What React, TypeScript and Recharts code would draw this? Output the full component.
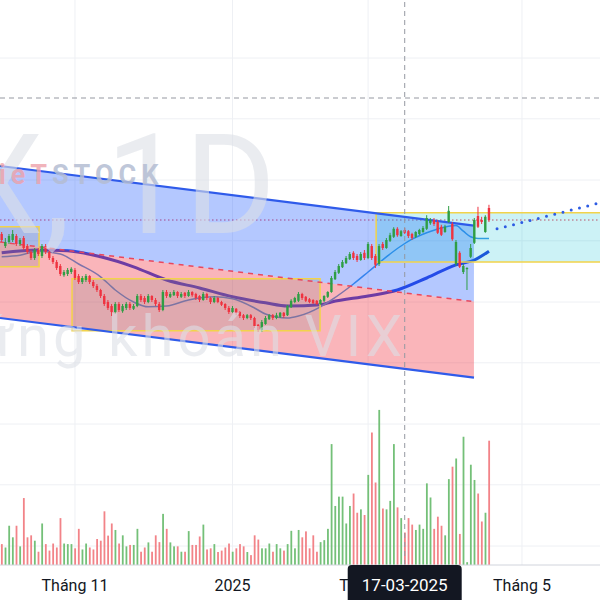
import React from "react";
import {
  ComposedChart,
  Bar,
  Line,
  Area,
  XAxis,
  YAxis,
  ReferenceLine,
  ReferenceArea,
} from "recharts";

// Daily candles of VIX, index 0 = 04-10-2024 … index 133 = 18-04-2025 (thousand VND)
const opens = [
  12.65, 12.35, 12.45, 12.5, 12.6, 12.4, 12.55, 12.35, 12.2, 12.05,
  12.25, 12.1, 12.35, 12.2, 12.05, 11.95, 11.85, 11.62, 11.65, 11.7,
  11.75, 11.6, 11.45, 11.5, 11.6, 11.45, 11.35, 11.25, 11.1, 10.95,
  10.85, 10.7, 10.9, 10.72, 10.8, 10.9, 10.78, 10.85, 11.1, 11.05,
  10.95, 11.1, 11.0, 10.9, 10.75, 11.2, 11.08, 11.12, 11.2, 11.08,
  11.18, 11.1, 11.2, 11.15, 11.1, 11.0, 11.15, 11.05, 10.95, 11.05,
  10.95, 10.9, 10.8, 10.7, 10.78, 10.7, 10.62, 10.55, 10.62, 10.55,
  10.38, 10.25, 10.4, 10.52, 10.62, 10.55, 10.58, 10.68, 10.62, 10.82,
  10.95, 10.98, 11.15, 11.08, 11.02, 11.0, 10.98, 10.9, 10.98, 11.08,
  11.2, 11.52, 11.68, 11.82, 11.92, 12.02, 12.18, 12.1, 12.0, 12.18,
  12.05, 12.35, 12.1, 11.9, 12.4, 12.3, 12.48, 12.58, 12.78, 12.6,
  12.75, 12.72, 12.65, 12.58, 12.65, 12.7, 12.78, 12.92, 13.0, 12.95,
  12.83, 12.7, 12.95, 12.9, 11.9, 12.18, 11.7, 11.77, 12.08, 12.43,
  13.1, 13.0, 12.7, 13.3,
];
const highs = [
  12.7, 12.55, 12.65, 12.75, 12.65, 12.55, 12.6, 12.4, 12.25, 12.3,
  12.3, 12.4, 12.4, 12.25, 12.1, 12.0, 11.9, 11.75, 11.8, 11.82,
  11.8, 11.65, 11.6, 11.65, 11.62, 11.5, 11.4, 11.28, 11.15, 11.0,
  10.9, 10.95, 10.95, 10.9, 10.95, 10.95, 10.9, 11.15, 11.15, 11.1,
  11.15, 11.12, 11.05, 10.95, 11.25, 11.25, 11.2, 11.25, 11.22, 11.2,
  11.2, 11.25, 11.22, 11.18, 11.12, 11.2, 11.18, 11.08, 11.1, 11.08,
  10.98, 10.92, 10.85, 10.85, 10.8, 10.72, 10.65, 10.65, 10.65, 10.58,
  10.4, 10.5, 10.6, 10.65, 10.65, 10.68, 10.7, 10.7, 10.88, 11.02,
  11.08, 11.2, 11.18, 11.1, 11.05, 11.02, 11.0, 11.02, 11.12, 11.22,
  11.6, 11.75, 11.9, 12.0, 12.1, 12.2, 12.22, 12.15, 12.2, 12.25,
  12.45, 12.4, 12.15, 12.4, 12.45, 12.55, 12.68, 12.82, 12.82, 12.75,
  12.8, 12.75, 12.68, 12.72, 12.78, 12.85, 13.12, 13.05, 13.05, 13.0,
  12.88, 12.88, 13.35, 12.95, 12.5, 12.22, 11.9, 11.82, 12.4, 13.05,
  13.33, 13.08, 13.12, 13.38,
];
const lows = [
  12.45, 12.3, 12.4, 12.45, 12.35, 12.35, 12.25, 12.15, 12.0, 12.0,
  12.1, 12.05, 12.15, 12.0, 11.9, 11.75, 11.6, 11.58, 11.6, 11.65,
  11.5, 11.4, 11.4, 11.45, 11.4, 11.3, 11.2, 11.05, 10.85, 10.75,
  10.6, 10.65, 10.7, 10.68, 10.75, 10.75, 10.75, 10.82, 10.95, 10.9,
  10.92, 10.95, 10.85, 10.7, 10.72, 11.05, 11.05, 11.1, 11.05, 11.05,
  11.05, 11.08, 11.08, 11.0, 10.95, 10.98, 11.0, 10.9, 10.92, 10.92,
  10.85, 10.75, 10.65, 10.68, 10.62, 10.55, 10.5, 10.52, 10.5, 10.3,
  10.2, 10.2, 10.38, 10.5, 10.5, 10.52, 10.55, 10.55, 10.6, 10.8,
  10.92, 10.95, 11.0, 10.95, 10.92, 10.9, 10.88, 10.88, 10.95, 11.05,
  11.18, 11.5, 11.65, 11.8, 11.9, 12.0, 12.0, 11.95, 11.98, 12.0,
  12.02, 12.0, 11.8, 11.85, 12.25, 12.28, 12.45, 12.55, 12.58, 12.58,
  12.65, 12.55, 12.5, 12.55, 12.62, 12.68, 12.75, 12.88, 12.85, 12.65,
  12.6, 12.68, 12.93, 12.48, 11.85, 11.8, 11.65, 11.25, 12.05, 12.4,
  12.8, 12.9, 12.68, 12.95,
];
const closes = [
  12.5, 12.45, 12.6, 12.65, 12.4, 12.5, 12.3, 12.2, 12.05, 12.25,
  12.15, 12.35, 12.2, 12.05, 11.95, 11.8, 11.65, 11.7, 11.75, 11.78,
  11.55, 11.45, 11.55, 11.6, 11.45, 11.35, 11.25, 11.1, 10.9, 10.8,
  10.7, 10.9, 10.75, 10.85, 10.9, 10.8, 10.85, 11.1, 11.0, 10.95,
  11.1, 11.0, 10.9, 10.75, 11.2, 11.1, 11.15, 11.2, 11.1, 11.15,
  11.1, 11.2, 11.12, 11.05, 11.0, 11.15, 11.05, 10.95, 11.05, 10.95,
  10.88, 10.8, 10.7, 10.8, 10.68, 10.6, 10.55, 10.62, 10.55, 10.35,
  10.25, 10.45, 10.55, 10.62, 10.55, 10.62, 10.68, 10.6, 10.85, 10.98,
  11.05, 11.15, 11.05, 10.98, 10.95, 10.92, 10.9, 11.0, 11.1, 11.2,
  11.55, 11.7, 11.85, 11.95, 12.05, 12.15, 12.05, 12.0, 12.15, 12.05,
  12.4, 12.05, 11.88, 12.35, 12.3, 12.5, 12.62, 12.78, 12.62, 12.72,
  12.68, 12.6, 12.55, 12.7, 12.75, 12.8, 13.05, 13.0, 12.9, 12.68,
  12.63, 12.83, 13.23, 12.52, 12.45, 11.83, 11.85, 11.8, 12.3, 13.0,
  12.83, 12.95, 13.08, 13.0,
];
// Matched volume, millions of shares
const volumes = [
  7.4, 6.2, 13.9, 9.8, 13.9, 6.6, 23.7, 9.8, 10.5, 8.6,
  4.7, 14.7, 7.4, 5.1, 7.6, 6.2, 16.6, 7.6, 7.4, 7.4,
  5.9, 12.8, 5.5, 7.6, 6.2, 5.5, 9.2, 8.6, 19.0, 10.4,
  14.7, 12.4, 7.6, 10.5, 6.6, 7.1, 7.1, 12.8, 4.7, 6.2,
  8.0, 4.7, 10.5, 8.1, 18.1, 12.8, 8.0, 6.6, 6.6, 4.7,
  4.7, 12.0, 7.1, 7.1, 10.1, 14.3, 5.5, 5.9, 7.4, 4.6,
  5.1, 6.2, 7.6, 4.7, 5.9, 7.4, 6.6, 4.6, 3.5, 10.5,
  9.0, 5.9, 5.9, 7.6, 4.7, 7.4, 5.9, 5.1, 7.4, 12.1,
  5.9, 12.4, 9.8, 11.9, 5.9, 10.5, 4.7, 8.1, 8.8, 12.8,
  42.8, 20.9, 24.2, 24.2, 14.7, 20.9, 25.3, 18.5, 19.7, 17.7,
  31.9, 46.9, 29.2, 54.9, 20.0, 19.7, 22.7, 42.8, 20.4, 16.6,
  11.5, 16.6, 14.3, 12.4, 14.3, 12.8, 28.9, 23.9, 12.8, 17.1,
  13.9, 10.5, 30.4, 34.8, 37.7, 11.0, 45.4, 1.0, 35.5, 30.1,
  25.3, 15.4, 18.5, 44.0,
];

// Short and long moving averages
const fastMa = [
  { i: 0, v: 12.08 }, { i: 5, v: 12.12 }, { i: 10, v: 12.22 }, { i: 16, v: 12.15 },
  { i: 21, v: 11.9 }, { i: 27, v: 11.58 }, { i: 31, v: 11.25 }, { i: 36, v: 10.95 },
  { i: 40, v: 10.83 }, { i: 45, v: 10.85 }, { i: 51, v: 11.0 }, { i: 58, v: 11.08 },
  { i: 63, v: 11.03 }, { i: 69, v: 10.8 }, { i: 72, v: 10.65 }, { i: 78, v: 10.55 },
  { i: 81, v: 10.6 }, { i: 87, v: 10.83 }, { i: 90, v: 11.0 }, { i: 96, v: 11.4 },
  { i: 100, v: 11.7 }, { i: 105, v: 12.08 }, { i: 109, v: 12.35 }, { i: 112, v: 12.52 },
  { i: 116, v: 12.68 }, { i: 120, v: 12.8 }, { i: 124, v: 12.86 }, { i: 126, v: 12.72 },
  { i: 128, v: 12.58 }, { i: 130, v: 12.54 }, { i: 133, v: 12.54 },
];
const slowMa = [
  { i: 0, v: 12.18 }, { i: 10, v: 12.25 }, { i: 18, v: 12.23 }, { i: 27, v: 12.08 },
  { i: 36, v: 11.83 }, { i: 45, v: 11.5 }, { i: 54, v: 11.3 }, { i: 63, v: 11.08 },
  { i: 72, v: 10.93 }, { i: 78, v: 10.85 }, { i: 87, v: 10.88 }, { i: 90, v: 10.95 },
  { i: 100, v: 11.1 }, { i: 108, v: 11.25 }, { i: 116, v: 11.55 }, { i: 124, v: 11.88 },
  { i: 129, v: 12.0 }, { i: 133, v: 12.22 },
];

// Descending channel (upper / lower rails), midline is their average
const channelIndex = [-0.46, 128.9];
const channelUpper = [14.35, 12.86];
const channelLower = [10.55, 9.06];

// Projected path
const projectionIndex = [135.2, 163.3];
const projectionPrice = [12.78, 13.43];

const resistancePrice = 13.0;

// Accumulation boxes
const zoneStart = [-1, 19.2, 102.2];
const zoneEnd = [10.2, 86.9, 170];
const zoneLow = [11.83, 10.23, 11.95];
const zoneHigh = [12.83, 11.53, 13.18];
const zoneFill = ["#787b86", "#787b86", "#00bcd4"];

const timeTicks = [20, 63, 100, 142];
const timeTickLabels = ["Tháng 11", "2025", "Tháng 3", "Tháng 5"];
const crosshairIndex = 110;
const crosshairDate = "17-03-2025";
const crosshairPrice = 16.05;

const gridPrices = [17.05, 15.53, 14.0, 12.48, 10.95, 9.43, 7.9, 6.38, 4.85];

const UP = "#2f9e44";
const DOWN = "#ef3340";
const VOL_UP = "#74c078";
const VOL_DOWN = "#f28388";
const FONT = "Roboto, 'Noto Sans', sans-serif";

const rows = opens.map((o, i) => ({
  i,
  o,
  h: highs[i],
  l: lows[i],
  c: closes[i],
  v: volumes[i],
}));

const channelRows = channelIndex.map((i, k) => ({
  i,
  up: channelUpper[k],
  lo: channelLower[k],
  mid: (channelUpper[k] + channelLower[k]) / 2,
}));

const projectionRows = projectionIndex.map((i, k) => ({ i, p: projectionPrice[k] }));

const Candle = (props: any) => {
  const { x, y, width, height, payload } = props;
  if (!payload || payload.o == null) return null;
  const { o, h, l, c } = payload;
  const top = Math.min(y, y + height);
  const span = Math.abs(height);
  const ppu = h > l ? span / (h - l) : 0;
  const bodyTop = top + (h - Math.max(o, c)) * ppu;
  const bodyBottom = top + (h - Math.min(o, c)) * ppu;
  const cx = x + width / 2;
  const color = c >= o ? UP : DOWN;
  return (
    <g>
      <line x1={cx} x2={cx} y1={top} y2={top + span} stroke={color} strokeWidth={1} />
      <rect
        x={cx - 1.2}
        y={bodyTop}
        width={2.4}
        height={Math.max(1, bodyBottom - bodyTop)}
        fill={color}
      />
    </g>
  );
};

const VolumeBar = (props: any) => {
  const { x, y, width, height, payload } = props;
  if (!payload) return null;
  const cx = x + width / 2;
  const color = payload.c >= payload.o ? VOL_UP : VOL_DOWN;
  return (
    <rect
      x={cx - 0.9}
      y={Math.min(y, y + height)}
      width={1.8}
      height={Math.abs(height)}
      fill={color}
    />
  );
};

const TimeTick = (props: any) => {
  const { x, y, payload } = props;
  const v = payload.value;
  if (v === crosshairIndex) {
    return (
      <g>
        <rect x={x - 57} y={y - 14} width={114} height={40} rx={4} fill="#131722" />
        <text
          x={x}
          y={y + 12}
          textAnchor="middle"
          fill="#ffffff"
          fontSize={17}
          fontFamily={FONT}
        >
          {crosshairDate}
        </text>
      </g>
    );
  }
  const k = timeTicks.indexOf(v);
  return (
    <text x={x} y={y + 12} textAnchor="middle" fill="#131722" fontSize={16} fontFamily={FONT}>
      {timeTickLabels[k]}
    </text>
  );
};

export default function App() {
  return (
    <div
      style={{
        position: "absolute",
        left: 0,
        top: 0,
        width: 600,
        height: 600,
        background: "#ffffff",
        overflow: "hidden",
      }}
    >
      <ComposedChart
        width={600}
        height={600}
        data={rows}
        margin={{ top: 0, right: 0, bottom: 0, left: 0 }}
      >
        <XAxis
          xAxisId="t"
          dataKey="i"
          type="number"
          domain={[-0.46, 163.3]}
          allowDataOverflow
          ticks={[...timeTicks, crosshairIndex]}
          interval={0}
          tick={<TimeTick />}
          tickLine={false}
          tickSize={6}
          tickMargin={8}
          height={35}
          axisLine={{ stroke: "#d1d4dc" }}
        />
        <XAxis
          xAxisId="tv"
          dataKey="i"
          type="number"
          domain={[-0.46, 163.3]}
          allowDataOverflow
          hide
        />
        <YAxis yAxisId="p" domain={[4.375, 18.5]} allowDataOverflow hide />
        <YAxis yAxisId="v" domain={[0, 200]} allowDataOverflow hide />

        {gridPrices.map((g) => (
          <ReferenceLine
            key={"gy" + g}
            xAxisId="t"
            yAxisId="p"
            y={g}
            stroke="#eef0f4"
            strokeWidth={1}
            zIndex={-100}
          />
        ))}
        {timeTicks.map((t) => (
          <ReferenceLine
            key={"gx" + t}
            xAxisId="t"
            yAxisId="p"
            x={t}
            stroke="#eef0f4"
            strokeWidth={1}
            zIndex={-100}
          />
        ))}

        <Line
          data={slowMa}
          xAxisId="t"
          yAxisId="p"
          dataKey="v"
          type="monotone"
          stroke="#2240dc"
          strokeWidth={3}
          dot={false}
          activeDot={false}
          isAnimationActive={false}
          zIndex={50}
        />
        <Line
          data={fastMa}
          xAxisId="t"
          yAxisId="p"
          dataKey="v"
          type="monotone"
          stroke="#3c96e6"
          strokeWidth={1.5}
          dot={false}
          activeDot={false}
          isAnimationActive={false}
          zIndex={50}
        />
        <ReferenceLine
          xAxisId="t"
          yAxisId="p"
          y={resistancePrice}
          stroke="#e53950"
          strokeWidth={1.2}
          strokeDasharray="1.5 2.5"
          ifOverflow="hidden"
          zIndex={60}
        />

        <Area
          data={channelRows}
          xAxisId="t"
          yAxisId="p"
          dataKey={(d: any) => [d.mid, d.up]}
          type="linear"
          stroke="none"
          fill="#2962ff"
          fillOpacity={0.35}
          isAnimationActive={false}
          activeDot={false}
          zIndex={100}
        />
        <Area
          data={channelRows}
          xAxisId="t"
          yAxisId="p"
          dataKey={(d: any) => [d.lo, d.mid]}
          type="linear"
          stroke="none"
          fill="#f23645"
          fillOpacity={0.37}
          isAnimationActive={false}
          activeDot={false}
          zIndex={100}
        />

        {zoneStart.map((x1, k) => (
          <ReferenceArea
            key={"zone" + k}
            xAxisId="t"
            yAxisId="p"
            x1={x1}
            x2={zoneEnd[k]}
            y1={zoneLow[k]}
            y2={zoneHigh[k]}
            ifOverflow="hidden"
            stroke="#f2d34b"
            strokeWidth={1.5}
            fill={zoneFill[k]}
            fillOpacity={0.2}
            zIndex={150}
          />
        ))}

        <Line
          data={channelRows}
          xAxisId="t"
          yAxisId="p"
          dataKey="up"
          type="linear"
          stroke="#2f5bea"
          strokeWidth={2.2}
          dot={false}
          activeDot={false}
          isAnimationActive={false}
          zIndex={200}
        />
        <Line
          data={channelRows}
          xAxisId="t"
          yAxisId="p"
          dataKey="lo"
          type="linear"
          stroke="#2f5bea"
          strokeWidth={2.2}
          dot={false}
          activeDot={false}
          isAnimationActive={false}
          zIndex={200}
        />
        <Line
          data={channelRows}
          xAxisId="t"
          yAxisId="p"
          dataKey="mid"
          type="linear"
          stroke="#e8475e"
          strokeWidth={1.5}
          strokeDasharray="5 5"
          dot={false}
          activeDot={false}
          isAnimationActive={false}
          zIndex={200}
        />

        <Bar
          xAxisId="t"
          yAxisId="p"
          dataKey={(d: any) => [d.l, d.h]}
          barSize={3}
          shape={(p: any) => <Candle {...p} />}
          isAnimationActive={false}
          zIndex={300}
        />
        <Bar
          xAxisId="tv"
          yAxisId="v"
          dataKey="v"
          barSize={2}
          shape={(p: any) => <VolumeBar {...p} />}
          isAnimationActive={false}
          zIndex={300}
        />

        <Line
          data={projectionRows}
          xAxisId="t"
          yAxisId="p"
          dataKey="p"
          type="linear"
          stroke="#2d5be3"
          strokeWidth={3}
          strokeDasharray="0 8.5"
          strokeLinecap="round"
          dot={false}
          activeDot={false}
          isAnimationActive={false}
          zIndex={350}
        />

        <ReferenceLine
          xAxisId="t"
          yAxisId="p"
          x={crosshairIndex}
          stroke="#9598a1"
          strokeWidth={1}
          strokeDasharray="5 4"
          zIndex={450}
        />
        <ReferenceLine
          xAxisId="t"
          yAxisId="p"
          y={crosshairPrice}
          stroke="#9598a1"
          strokeWidth={1}
          strokeDasharray="5 4"
          zIndex={450}
        />
      </ComposedChart>

      <svg
        width={600}
        height={600}
        style={{ position: "absolute", left: 0, top: 0, pointerEvents: "none" }}
      >
        <text
          x={276}
          y={233}
          textAnchor="end"
          fontFamily={FONT}
          fontSize={140}
          fill="#dcdfe6"
          fillOpacity={0.6}
        >
          VIX, 1D
        </text>
        <text x={-24} y={184} fontFamily={FONT} fontWeight={700} fontSize={27} letterSpacing={5}>
          <tspan fill="#eea0a8" fillOpacity={0.8}>VieT</tspan>
          <tspan fill="#b4bdd3" fillOpacity={0.85}>STOCK</tspan>
        </text>
        <text
          x={406}
          y={356}
          textAnchor="end"
          fontFamily={FONT}
          fontSize={58}
          letterSpacing={4}
          fill="#dcdfe6"
          fillOpacity={0.6}
        >
          Chứng khoán VIX
        </text>
      </svg>
    </div>
  );
}
